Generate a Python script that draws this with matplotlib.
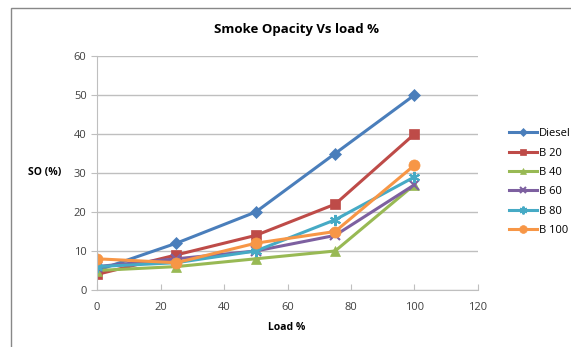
import matplotlib
matplotlib.use("Agg")
import matplotlib.pyplot as plt
from matplotlib.patches import Rectangle

load = [0, 25, 50, 75, 100]
diesel = [5, 12, 20, 35, 50]
b20 = [4, 9, 14, 22, 40]
b40 = [5, 6, 8, 10, 27]
b60 = [6, 8, 10, 14, 27]
b80 = [6, 7, 10, 18, 29]
b100 = [8, 7, 12, 15, 32]

series = [
    ("Diesel", diesel, "#4A7EBB", "D", 6),
    ("B 20", b20, "#BE4B48", "s", 7),
    ("B 40", b40, "#98B954", "^", 7),
    ("B 60", b60, "#7D60A0", "x", 7),
    ("B 80", b80, "#46AAC5", (6, 2, 0), 8),
    ("B 100", b100, "#F79646", "o", 8),
]

plt.rcParams['font.family'] = ['Open Sans', 'DejaVu Sans']
fig = plt.figure(figsize=(5.71, 3.47), dpi=100)
fig.patches.append(Rectangle((11/571, -0.1), 1.2, 1 - 8/347 + 0.1, transform=fig.transFigure,
                             fill=False, edgecolor="#888888", linewidth=1.0))
ax = fig.add_axes([97/571, 1 - 290/347, (478 - 97)/571, (290 - 56)/347])

for name, vals, color, marker, ms in series:
    ax.plot(load, vals, color=color, marker=marker, markersize=ms, linewidth=2.2,
            markeredgewidth=1.5 if marker in ("x", (6, 2, 0)) else 0.5,
            markeredgecolor=color, label=name)

ax.set_xlim(0, 120)
ax.set_ylim(0, 60)
ax.set_xticks(range(0, 121, 20))
ax.set_yticks(range(0, 61, 10))
ax.grid(axis="y", color="#BFBFBF", linewidth=1)
ax.set_axisbelow(True)
for s in ["top", "right"]:
    ax.spines[s].set_visible(False)
for s in ["left", "bottom"]:
    ax.spines[s].set_color("#BFBFBF")
ax.tick_params(colors="#404040", labelsize=8, length=4, color="#BFBFBF")
ax.tick_params(axis="x", direction="in", pad=9)
ax.tick_params(axis="y", direction="out")

fig.text(297/571, 1 - 30/347, "Smoke Opacity Vs load %", ha="center", va="center",
         fontsize=9.5, fontweight="bold", color="#000000")
fig.text(45/571, 1 - 173/347, "SO (%)", ha="center", va="center", fontsize=7.5,
         fontweight="bold")
fig.text(287/571, 1 - 328/347, "Load %", ha="center", va="center", fontsize=7.5,
         fontweight="bold")

leg = fig.legend(loc="center left", bbox_to_anchor=(505/571, 1 - 182/347), frameon=False,
                 fontsize=8, handlelength=2.5, handletextpad=0.15, labelspacing=0.75,
                 borderaxespad=0, markerscale=0.7)
fig.savefig("out.png", dpi=100)
